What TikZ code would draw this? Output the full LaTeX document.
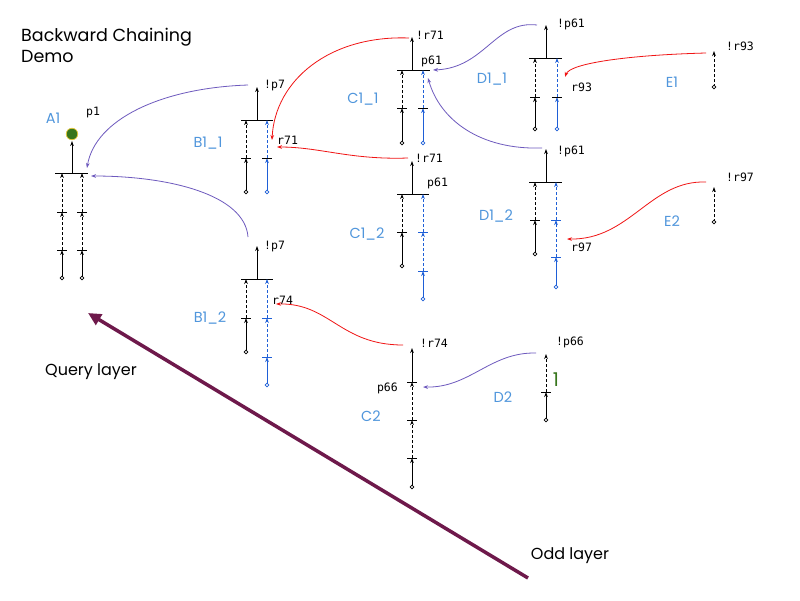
\documentclass[tikz,border=0pt]{standalone}
\usepackage{fontspec}
\setmainfont{DejaVu Sans}
\setmonofont{DejaVu Sans Mono}
\newfontfamily\labfont{Poppins}
\usetikzlibrary{arrows.meta}
\definecolor{lblue}{RGB}{80,150,220}
\definecolor{cblue}{RGB}{30,95,215}
\definecolor{cpurple}{RGB}{110,90,190}
\definecolor{cred}{RGB}{240,20,20}
\definecolor{cmaroon}{RGB}{110,25,75}
\definecolor{cgreen}{RGB}{56,118,29}
\definecolor{cyell}{RGB}{230,200,60}
\newcommand\Vsolid[4]{\draw[seg,#1] (#2,#3) -- (#2,#4);}
\newcommand\Vdash[4]{\draw[seg,dsh,#1] (#2,#3) -- (#2,#4);}
\newcommand\Tk[3]{\draw[tk,#1] (#2-5,#3) -- (#2+5,#3);}
\newcommand\Bot[3]{\draw[#1,line width=0.7pt,fill=white] (#2,#3) circle[radius=1.8pt];}
\newcommand\Bar[4]{\draw[barl] (#1,#2) -- (#3,#2); \draw[seg] (#4,#2) -- (#4,#2-33);}
\begin{document}
\begin{tikzpicture}[x=1pt,y=-1pt,
  seg/.style={line width=0.8pt,-{Stealth[length=5pt,width=3.6pt]}},
  dsh/.style={dash pattern=on 3pt off 2pt},
  tk/.style={line width=0.8pt},
  barl/.style={line width=1pt},
  small/.style={font=\ttfamily\fontsize{11.5}{13}\selectfont, inner sep=0pt},
  big/.style={font=\labfont\fontsize{14.5}{16}\selectfont, text=lblue, inner sep=0pt},
  layer/.style={font=\labfont\fontsize{16}{18}\selectfont, inner sep=0pt},
  pcon/.style={cpurple,line width=0.8pt,-{Stealth[length=5pt,width=3.6pt]}},
  rcon/.style={cred,line width=0.8pt,-{Stealth[length=5pt,width=3.6pt]}},
]
\useasboundingbox (0,0) rectangle (800,600);
\fill[white] (0,0) rectangle (800,600);

% title
\node[font=\labfont\fontsize{17.5}{21}\selectfont, align=left, anchor=base west, inner sep=0pt] (title) at (21,62) {Backward Chaining\\Demo};

% ---------- A1 ----------
\draw[barl] (55,173) -- (88,173);
\draw[seg] (72,173) -- (72,141);
\node[circle, fill=cgreen, draw=cyell, line width=0.7pt, minimum size=11.5pt, inner sep=0pt] (A1dot) at (72,134) {};
\foreach \xx in {62,82}{
  \Vsolid{black}{\xx}{278}{250}
  \Vdash{black}{\xx}{250}{212}
  \Vdash{black}{\xx}{212}{173}
  \Tk{black}{\xx}{250}
  \Tk{black}{\xx}{212}
  \Bot{black}{\xx}{278}
}
\node[small] (p1) at (93,113) {p1};
\node[big] (A1) at (53,118) {A1};
\coordinate (A1in1) at (87,168);
\coordinate (A1in2) at (91,176);

% ---------- B1_1 ----------
\Bar{241}{120}{273}{257}
\Vsolid{black}{246}{192}{158}
\Vdash{black}{246}{158}{120}
\Tk{black}{246}{158}
\Bot{black}{246}{192}
\Vsolid{cblue}{267}{192}{158}
\Vdash{cblue}{267}{158}{120}
\Tk{black}{267}{158}
\Bot{cblue}{267}{192}
\node[small, anchor=west] (B11h) at (264,86) {!p7};
\node[small, anchor=west] (B11r) at (277,140) {r71};
\node[big] (B11) at (208,143) {B1\_1};
\coordinate (B11out) at (248,85);
\coordinate (B11in1) at (272,140);
\coordinate (B11in2) at (277,147);

% ---------- B1_2 ----------
\Bar{241}{279}{273}{257}
\Vsolid{black}{246}{352}{318}
\Vdash{black}{246}{318}{279}
\Tk{black}{246}{318}
\Bot{black}{246}{352}
\Vsolid{cblue}{267}{385}{357}
\Vdash{cblue}{267}{357}{318}
\Vdash{cblue}{267}{318}{279}
\Tk{cblue}{267}{357}
\Tk{cblue}{267}{318}
\Bot{cblue}{267}{385}
\node[small, anchor=west] (B12h) at (264,246) {!p7};
\node[small, anchor=west] (B12r) at (272,300) {r74};
\node[big] (B12) at (210,318) {B1\_2};
\coordinate (B12out) at (248,237);
\coordinate (B12in) at (276,304);

% ---------- C1_1 ----------
\Bar{397}{70}{430}{412}
\Vsolid{black}{402}{143}{108}
\Vdash{black}{402}{108}{70}
\Tk{black}{402}{108}
\Bot{black}{402}{143}
\Vsolid{cblue}{423}{143}{108}
\Vdash{cblue}{423}{108}{70}
\Tk{black}{423}{108}
\Bot{cblue}{423}{143}
\node[small, anchor=west] (C11h) at (416,35) {!r71};
\node[small, anchor=west] (C11p) at (421,61) {p61};
\node[big] (C11) at (363,99) {C1\_1};
\coordinate (C11out) at (409,38);
\coordinate (C11in1) at (433,70);
\coordinate (C11in2) at (428,78);

% ---------- C1_2 ----------
\Bar{397}{194}{429}{412}
\Vsolid{black}{402}{266}{232}
\Vdash{black}{402}{232}{194}
\Tk{black}{402}{232}
\Bot{black}{402}{266}
\Vsolid{cblue}{423}{299}{271}
\Vdash{cblue}{423}{271}{232}
\Vdash{cblue}{423}{232}{194}
\Tk{cblue}{423}{271}
\Tk{cblue}{423}{232}
\Bot{cblue}{423}{299}
\node[small, anchor=west] (C12h) at (415,158) {!r71};
\node[small, anchor=west] (C12p) at (427,183) {p61};
\node[big] (C12) at (367,234) {C1\_2};
\coordinate (C12out) at (408,158);

% ---------- D1_1 ----------
\Bar{529}{58}{562}{546}
\Vsolid{black}{535}{129}{97}
\Vdash{black}{535}{97}{58}
\Tk{black}{535}{97}
\Bot{black}{535}{129}
\Vsolid{cblue}{557}{129}{97}
\Vdash{cblue}{557}{97}{58}
\Tk{black}{557}{97}
\Bot{cblue}{557}{129}
\node[small, anchor=west] (D11h) at (557,24) {!p61};
\node[small, anchor=west] (D11r) at (571,87) {r93};
\node[big] (D11) at (492,79) {D1\_1};
\coordinate (D11out) at (537,25);
\coordinate (D11in) at (565,77);

% ---------- D1_2 ----------
\Bar{529}{182}{562}{546}
\Vsolid{black}{535}{254}{220}
\Vdash{black}{535}{220}{182}
\Tk{black}{535}{220}
\Bot{black}{535}{254}
\Vsolid{cblue}{556}{287}{257}
\Vdash{cblue}{556}{257}{220}
\Vdash{cblue}{556}{220}{182}
\Tk{cblue}{556}{257}
\Tk{cblue}{556}{220}
\Bot{cblue}{556}{287}
\node[small, anchor=west] (D12h) at (557,151) {!p61};
\node[small, anchor=west] (D12r) at (571,247) {r97};
\node[big] (D12) at (496,216) {D1\_2};
\coordinate (D12out) at (542,148);
\coordinate (D12in) at (567,239);

% ---------- E1 ----------
\Vdash{black}{714}{87}{51}
\Bot{black}{714}{87}
\node[small, anchor=west] (E1h) at (726,46) {!r93};
\node[big] (E1) at (672,82) {E1};
\coordinate (E1out) at (706,53);

% ---------- E2 ----------
\Vdash{black}{714}{222}{187}
\Bot{black}{714}{222}
\node[small, anchor=west] (E2h) at (726,177) {!r97};
\node[big] (E2) at (672,221) {E2};
\coordinate (E2out) at (706,182);

% ---------- C2 ----------
\Vsolid{black}{412}{487}{458}
\Vdash{black}{412}{458}{420}
\Vdash{black}{412}{420}{382}
\Vsolid{black}{412}{382}{348}
\Tk{black}{412}{458}
\Tk{black}{412}{420}
\Tk{black}{412}{382}
\Bot{black}{412}{487}
\node[small, anchor=west] (C2h) at (420,343) {!r74};
\node[small, anchor=east] (C2p) at (398,388) {p66};
\node[big] (C2) at (371,416) {C2};
\coordinate (C2out) at (403,345);
\coordinate (C2in) at (423,387);

% ---------- D2 ----------
\Vsolid{black}{546}{420}{392}
\Vdash{black}{546}{392}{354}
\Tk{black}{546}{392}
\Bot{black}{546}{420}
\node[small, anchor=west] (D2h) at (556,342) {!p66};
\node[font=\labfont\fontsize{19}{21}\selectfont, text=cgreen, inner sep=0pt] (D2one) at (556,380) {1};
\node[big] (D2) at (503,397) {D2};
\coordinate (D2out) at (536,353);

% ---------- connectors ----------
\draw[pcon] (B11out) .. controls (160,88) and (95,120) .. (A1in1);
\draw[pcon] (B12out) .. controls (245,195) and (170,176) .. (A1in2);
\draw[rcon] (C11out) .. controls (330,35) and (275,80) .. (B11in1);
\draw[rcon] (C12out) .. controls (350,160) and (320,147) .. (B11in2);
\draw[pcon] (D11out) .. controls (495,20) and (485,68) .. (C11in1);
\draw[pcon] (D12out) .. controls (480,150) and (440,120) .. (C11in2);
\draw[rcon] (E1out) .. controls (630,55) and (570,63) .. (D11in);
\draw[rcon] (E2out) .. controls (650,180) and (630,240) .. (D12in);
\draw[rcon] (C2out) .. controls (340,345) and (330,303) .. (B12in);
\draw[pcon] (D2out) .. controls (490,352) and (470,388) .. (C2in);

% ---------- layers ----------
\coordinate (odd) at (528,578);
\coordinate (query) at (88,313);
\draw[cmaroon, line width=3.5pt, -{Triangle[length=13pt,width=12pt]}] (odd) -- (query);
\node[layer, anchor=west] (ql) at (45,372) {Query layer};
\node[layer] (ol) at (570,556) {Odd layer};
\end{tikzpicture}
\end{document}
